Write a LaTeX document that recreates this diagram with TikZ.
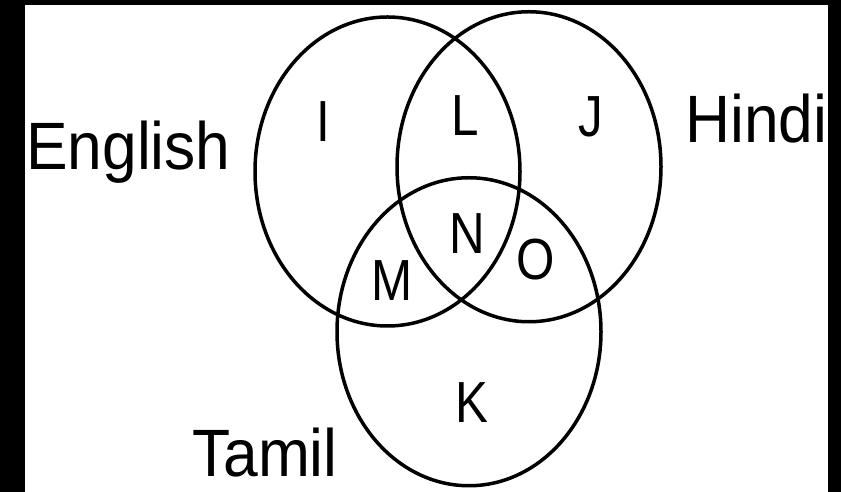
\documentclass[tikz,border=0pt]{standalone}
\usepackage{fontspec}
\setmainfont{Liberation Sans}
\begin{document}
\begin{tikzpicture}[x=1pt,y=1pt,
  ring/.style={draw=black,line width=3.5pt},
  biglabel/.style={inner sep=0pt,anchor=base west,font=\fontsize{67}{67}\selectfont,xscale=0.93},
  region/.style={inner sep=0pt,anchor=center,font=\fontsize{58}{58}\selectfont,xscale=0.85}]
\useasboundingbox (0,0) rectangle (841,492);
\fill[black] (0,0) rectangle (841,492);
\fill[white] (25,0) rectangle (828,487);
\draw[ring] (387.5,320.5) ellipse [x radius=132.5, y radius=154.5];
\draw[ring] (529,325.25) ellipse [x radius=132, y radius=155];
\draw[ring] (469,160.25) ellipse [x radius=132, y radius=154];
\node[biglabel] (english) at (26,322) {English};
\node[biglabel] (hindi) at (685,349) {Hindi};
\node[biglabel] (tamil) at (192,15) {Tamil};
\node[region] (I) at (323,370) {I};
\node[region] (L) at (465,376) {L};
\node[region] (J) at (591,375) {J};
\node[region] (N) at (467,258) {N};
\node[region] (M) at (392,211) {M};
\node[region] (O) at (536,232) {O};
\node[region] (K) at (472,89) {K};
\end{tikzpicture}
\end{document}
